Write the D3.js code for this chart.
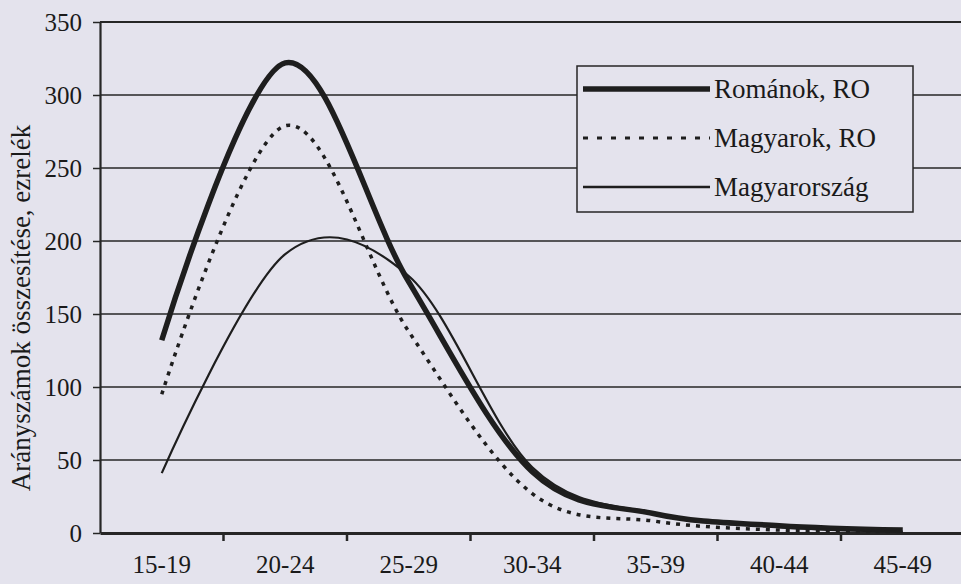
<!DOCTYPE html>
<html><head><meta charset="utf-8">
<script src="https://cdn.jsdelivr.net/npm/d3@7"></script>
<style>html,body{margin:0;padding:0;background:#e4e3ed;}svg{display:block;}</style>
</head><body>
<svg id="chart" width="961" height="584"></svg>
<script>
const categories = ["15-19","20-24","25-29","30-34","35-39","40-44","45-49"];
const romanokRO    = [132, 322, 172, 42, 13, 5, 2];
const magyarokRO   = [95, 279, 138, 27, 8, 2, 1];
const magyarorszag = [41, 191, 176, 45, 13, 4, 1];
const seriesNames = ["Románok, RO","Magyarok, RO","Magyarország"];
const yTicks = [0,50,100,150,200,250,300,350];
const yTitle = "Arányszámok összesítése, ezrelék";

const bg = "#e4e3ed", ink = "#262626";
const svg = d3.select("#chart");
svg.append("rect").attr("width",961).attr("height",584).attr("fill",bg);

const plotL = 100, plotT = 22, plotB = 533, bandW = 123.5;
const x = d3.scaleBand().domain(categories).range([plotL, plotL + bandW*categories.length]).paddingInner(0).paddingOuter(0);
const y = d3.scaleLinear().domain([0,350]).range([plotB, plotT]);
const cx = c => x(c) + x.bandwidth()/2;
const serif = "'Liberation Serif','Times New Roman',serif";

// gridlines
svg.append("g").selectAll("line").data(yTicks.filter(v=>v>0)).join("line")
  .attr("x1", plotL).attr("x2", 961).attr("y1", d=>y(d)).attr("y2", d=>y(d))
  .attr("stroke", ink).attr("stroke-width", d=>d===350?2.2:1.3);

// y axis
const yAxis = svg.append("g").attr("transform",`translate(${plotL},0)`)
  .call(d3.axisLeft(y).tickValues(yTicks).tickSize(7).tickPadding(11).tickSizeOuter(0));
yAxis.select(".domain").attr("stroke", ink).attr("stroke-width", 2.2);
yAxis.selectAll(".tick line").attr("stroke", ink).attr("stroke-width", 1.5);
yAxis.selectAll("text").attr("font-family", serif).attr("font-size", 25).attr("fill", "#1a1a1a");

// x axis
const xAxis = svg.append("g").attr("transform",`translate(0,${plotB})`)
  .call(d3.axisBottom(x).tickSize(0).tickPadding(22).tickSizeOuter(0));
xAxis.select(".domain").attr("stroke", ink).attr("stroke-width", 3);
xAxis.selectAll("text").attr("font-family", serif).attr("font-size", 25).attr("fill", "#1a1a1a");
svg.append("g").selectAll("line").data(categories.slice(1)).join("line")
  .attr("x1", d=>x(d)).attr("x2", d=>x(d)).attr("y1", plotB).attr("y2", plotB+8)
  .attr("stroke", ink).attr("stroke-width", 2.5);

// y title
svg.append("text").attr("transform","translate(30,308) rotate(-90)")
  .attr("text-anchor","middle").attr("font-family", serif).attr("font-size", 27)
  .attr("fill","#1a1a1a").text(yTitle);

// lines
const line = d3.line().x((d,i)=>cx(categories[i])).y(d=>y(d)).curve(d3.curveCardinal.tension(0));
const styles = [
  {data: romanokRO, w: 5.5, dash: null},
  {data: magyarokRO, w: 3.5, dash: "4,6"},
  {data: magyarorszag, w: 2.2, dash: null}
];
styles.forEach(s=>{
  svg.append("path").attr("d", line(s.data)).attr("fill","none")
    .attr("stroke", "#1e1e1e").attr("stroke-width", s.w)
    .attr("stroke-dasharray", s.dash).attr("stroke-linejoin","round");
});

// legend
const lg = svg.append("g");
lg.append("rect").attr("x",577).attr("y",66).attr("width",336).attr("height",146)
  .attr("fill", bg).attr("stroke", ink).attr("stroke-width", 1.5);
const legW = [5.5, 3, 2.5], legDash = [null, "5,9", null];
seriesNames.forEach((n,i)=>{
  const yy = 89 + i*49;
  lg.append("line").attr("x1",583).attr("x2",710).attr("y1",yy).attr("y2",yy)
    .attr("stroke","#1e1e1e").attr("stroke-width", legW[i]).attr("stroke-dasharray", legDash[i]);
  lg.append("text").attr("x",714).attr("y",yy+9).attr("font-family", serif)
    .attr("font-size", 27).attr("fill","#1a1a1a").text(n);
});
</script>
</body></html>
